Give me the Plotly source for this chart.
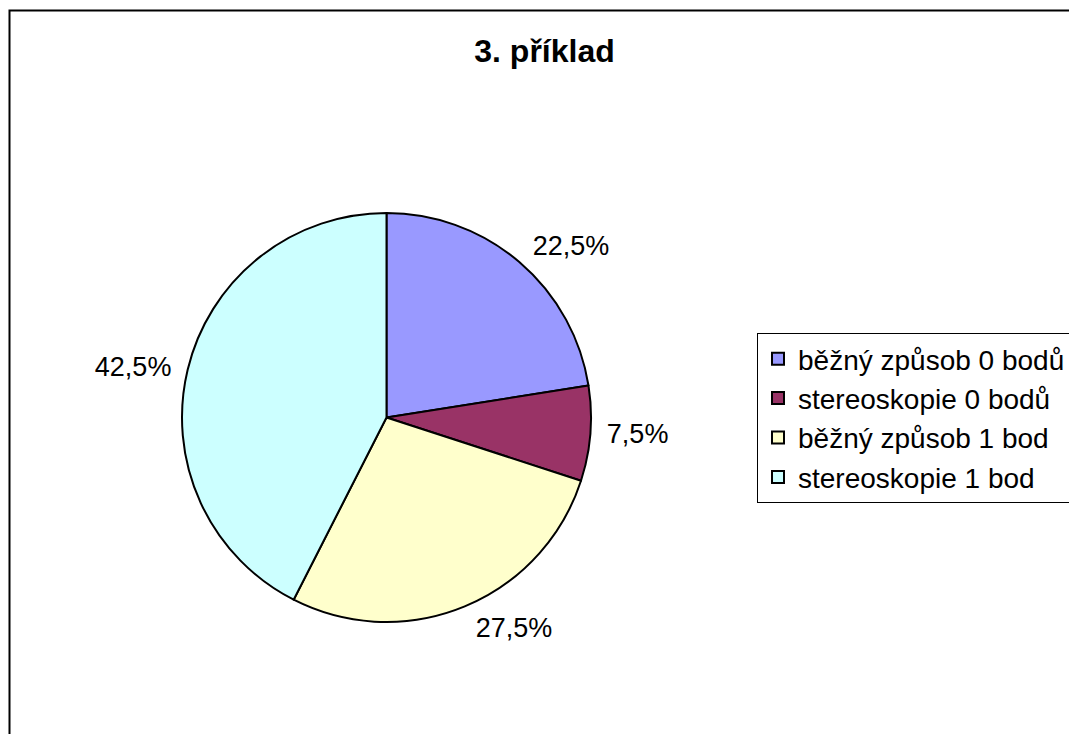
import plotly.graph_objects as go

labels = ["běžný způsob 0 bodů", "stereoskopie 0 bodů", "běžný způsob 1 bod", "stereoskopie 1 bod"]
values = [22.5, 7.5, 27.5, 42.5]
colors = ["#9999FF", "#993366", "#FFFFCC", "#CCFFFF"]
title_text = "3. příklad"

W, H = 1069, 734
FONT = "Liberation Sans, Arial, sans-serif"

# pie box (pixels): left, right, top, bottom
PL, PR, PT, PB = 182, 591, 213, 622
GAP = 9  # extra distance of the percentage labels from the pie edge

fig = go.Figure()
# visible pie
fig.add_trace(go.Pie(
    labels=labels,
    values=values,
    sort=False,
    direction="clockwise",
    rotation=0,
    marker=dict(colors=colors, line=dict(color="#000000", width=2)),
    textinfo="none",
    domain=dict(x=[PL / W, PR / W], y=[(H - PB) / H, (H - PT) / H]),
    hoverinfo="label+percent",
))
# transparent, slightly larger pie that carries the outside percentage labels
fig.add_trace(go.Pie(
    labels=labels,
    values=values,
    sort=False,
    direction="clockwise",
    rotation=0,
    marker=dict(colors=["rgba(0,0,0,0)"] * len(values), line=dict(width=0)),
    textposition="outside",
    texttemplate="%{percent:.1%}",
    textfont=dict(family=FONT, size=27, color="#000000"),
    domain=dict(x=[(PL - GAP) / W, (PR + GAP) / W],
                y=[(H - PB - GAP) / H, (H - PT + GAP) / H]),
    hoverinfo="skip",
    showlegend=False,
))

fig.update_layout(
    width=W, height=H,
    margin=dict(l=0, r=0, t=0, b=0, autoexpand=False),
    paper_bgcolor="#FFFFFF",
    plot_bgcolor="#FFFFFF",
    separators=", ",
    font=dict(family=FONT, color="#000000"),
    title=dict(
        text="<b>" + title_text + "</b>",
        x=544.5 / W, xanchor="center",
        y=1 - 50.7 / H, yanchor="middle",
        font=dict(family=FONT, size=32, color="#000000"),
    ),
    showlegend=True,
    legend=dict(
        x=757 / W, xanchor="left",
        y=(H - 333) / H, yanchor="top",
        bordercolor="#000000", borderwidth=1,
        bgcolor="#FFFFFF",
        font=dict(family=FONT, size=28, color="#000000"),
        traceorder="normal",
    ),
    shapes=[dict(
        type="rect", xref="paper", yref="paper",
        x0=9.5 / W, x1=1.2, y0=-0.2, y1=(H - 10.5) / H,
        line=dict(color="#000000", width=2),
        fillcolor="rgba(0,0,0,0)", layer="below",
    )],
)

fig.write_html("out.html")
